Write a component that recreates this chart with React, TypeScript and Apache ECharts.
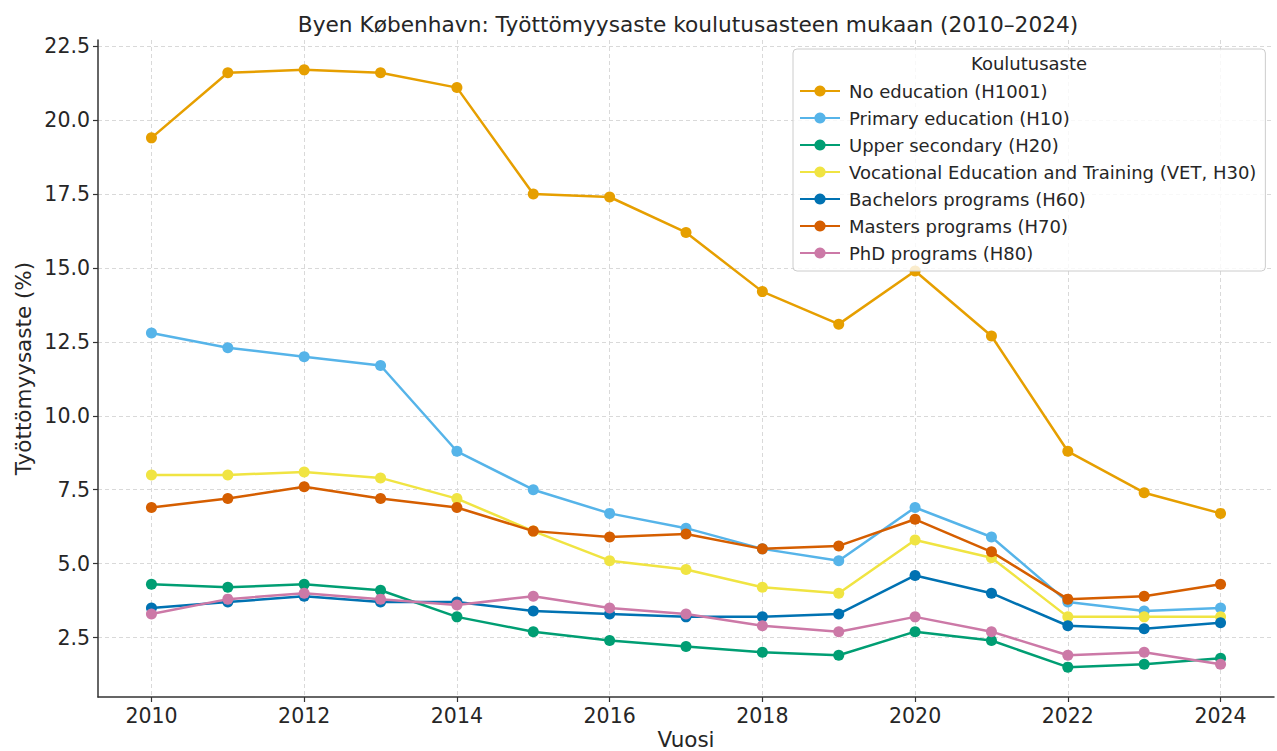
import React, { useEffect, useRef } from "react";
import * as echarts from "echarts";

const years = [2010, 2011, 2012, 2013, 2014, 2015, 2016, 2017, 2018, 2019, 2020, 2021, 2022, 2023, 2024];

const noEducation = [19.4, 21.6, 21.7, 21.6, 21.1, 17.5, 17.4, 16.2, 14.2, 13.1, 14.9, 12.7, 8.8, 7.4, 6.7];
const primaryEducation = [12.8, 12.3, 12.0, 11.7, 8.8, 7.5, 6.7, 6.2, 5.5, 5.1, 6.9, 5.9, 3.7, 3.4, 3.5];
const upperSecondary = [4.3, 4.2, 4.3, 4.1, 3.2, 2.7, 2.4, 2.2, 2.0, 1.9, 2.7, 2.4, 1.5, 1.6, 1.8];
const vocational = [8.0, 8.0, 8.1, 7.9, 7.2, 6.1, 5.1, 4.8, 4.2, 4.0, 5.8, 5.2, 3.2, 3.2, 3.2];
const bachelors = [3.5, 3.7, 3.9, 3.7, 3.7, 3.4, 3.3, 3.2, 3.2, 3.3, 4.6, 4.0, 2.9, 2.8, 3.0];
const masters = [6.9, 7.2, 7.6, 7.2, 6.9, 6.1, 5.9, 6.0, 5.5, 5.6, 6.5, 5.4, 3.8, 3.9, 4.3];
const phd = [3.3, 3.8, 4.0, 3.8, 3.6, 3.9, 3.5, 3.3, 2.9, 2.7, 3.2, 2.7, 1.9, 2.0, 1.6];

const seriesNames = [
  "No education (H1001)",
  "Primary education (H10)",
  "Upper secondary (H20)",
  "Vocational Education and Training (VET, H30)",
  "Bachelors programs (H60)",
  "Masters programs (H70)",
  "PhD programs (H80)",
];
const seriesValues = [noEducation, primaryEducation, upperSecondary, vocational, bachelors, masters, phd];
const colors = ["#E69F00", "#56B4E9", "#009E73", "#F0E442", "#0072B2", "#D55E00", "#CC79A7"];

// axis ranges (matplotlib-style 5% margins) and tick ranges
const xRange = [2009.3, 2024.7];
const xTickRange = [2010, 2024];
const xTickStep = 2;
const yRange = [0.49, 22.71];
const yTickRange = [2.5, 22.5];
const yTickStep = 2.5;

const titleText = "Byen København: Työttömyysaste koulutusasteen mukaan (2010–2024)";
const xAxisName = "Vuosi";
const yAxisName = "Työttömyysaste (%)";
const legendTitle = "Koulutusaste";

const FONT = "DejaVu Sans";
const TEXT = "#262626";

// plot frame in pixels
const W = 1277;
const H = 751;
const PL = 98;
const PR = 1274;
const PT = 40;
const PB = 697;

export default function App() {
  const ref = useRef<HTMLDivElement>(null);
  useEffect(() => {
    document.body.style.margin = "0";
    if (!ref.current) return;
    const chart = echarts.init(ref.current, null, { renderer: "svg" });

    const xPix = (v: number) => PL + ((v - xRange[0]) / (xRange[1] - xRange[0])) * (PR - PL);
    const yPix = (v: number) => PB - ((v - yRange[0]) / (yRange[1] - yRange[0])) * (PB - PT);

    const gridLine = { show: true, lineStyle: { color: "#d9d9d9", width: 1, type: [4, 3] as any } };
    const tickLabel = { fontFamily: FONT, fontSize: 20.5, color: TEXT, margin: 8 };
    const tick = { show: true, length: 5, lineStyle: { color: "#333", width: 1.2 } };
    const gridBase = { containLabel: false, outerBoundsMode: "none" };

    chart.setOption({
      animation: false,
      backgroundColor: "#ffffff",
      textStyle: { fontFamily: FONT },
      title: {
        text: titleText,
        left: 683,
        textAlign: "center",
        top: 8,
        textStyle: { fontFamily: FONT, fontSize: 21.7, fontWeight: "normal", color: TEXT },
      },
      grid: [
        // main data grid
        { ...gridBase, left: PL, right: W - PR, top: PT, bottom: H - PB },
        // helper grid for x ticks (2010..2024)
        { ...gridBase, left: xPix(xTickRange[0]), right: W - xPix(xTickRange[1]), top: PT, bottom: H - PB },
        // helper grid for y ticks (2.5..22.5)
        { ...gridBase, left: PL, right: W - PR, top: yPix(yTickRange[1]), bottom: H - yPix(yTickRange[0]) },
      ],
      xAxis: [
        {
          gridIndex: 0,
          type: "value",
          min: xRange[0],
          max: xRange[1],
          name: xAxisName,
          nameLocation: "middle",
          nameGap: 31,
          nameTextStyle: { fontFamily: FONT, fontSize: 21.5, color: TEXT },
          axisLine: { show: true, onZero: false, lineStyle: { color: "#333", width: 1.5 } },
          axisTick: { show: false },
          axisLabel: { show: false },
          splitLine: { show: false },
        },
        {
          gridIndex: 1,
          type: "value",
          min: xTickRange[0],
          max: xTickRange[1],
          interval: xTickStep,
          axisLine: { show: false, onZero: false },
          axisTick: tick,
          axisLabel: { ...tickLabel, formatter: (v: number) => String(v) },
          splitLine: gridLine,
        },
        {
          gridIndex: 2,
          type: "value",
          min: xRange[0],
          max: xRange[1],
          show: false,
        },
      ],
      yAxis: [
        {
          gridIndex: 0,
          type: "value",
          min: yRange[0],
          max: yRange[1],
          name: yAxisName,
          nameLocation: "middle",
          nameGap: 64,
          nameTextStyle: { fontFamily: FONT, fontSize: 21.5, color: TEXT },
          axisLine: { show: true, onZero: false, lineStyle: { color: "#333", width: 1.5 } },
          axisTick: { show: false },
          axisLabel: { show: false },
          splitLine: { show: false },
        },
        {
          gridIndex: 1,
          type: "value",
          min: yRange[0],
          max: yRange[1],
          show: false,
        },
        {
          gridIndex: 2,
          type: "value",
          min: yTickRange[0],
          max: yTickRange[1],
          interval: yTickStep,
          axisLine: { show: false, onZero: false },
          axisTick: tick,
          axisLabel: { ...tickLabel, formatter: (v: number) => v.toFixed(1) },
          splitLine: gridLine,
        },
      ],
      legend: {
        orient: "vertical",
        left: 793,
        top: 49,
        padding: [32, 9, 8, 6],
        itemWidth: 40,
        itemHeight: 14,
        itemGap: 7,
        backgroundColor: "rgba(255,255,255,0.8)",
        borderColor: "#cccccc",
        borderWidth: 1,
        borderRadius: 4,
        textStyle: { fontFamily: FONT, fontSize: 18, color: TEXT, lineHeight: 20, padding: [0, 0, 0, 4] },
        data: seriesNames,
      },
      graphic: [
        {
          type: "text",
          left: 971,
          top: 54,
          z: 100,
          style: { text: legendTitle, fontFamily: FONT, fontSize: 18, fill: TEXT },
        },
      ],
      series: seriesNames.map((name, i) => ({
        name,
        type: "line",
        xAxisIndex: 0,
        yAxisIndex: 0,
        data: years.map((y, j) => [y, seriesValues[i][j]]),
        color: colors[i],
        symbol: "circle",
        symbolSize: 11,
        lineStyle: { width: 2.5, color: colors[i] },
        itemStyle: { color: colors[i] },
        z: 2 + i,
      })),
    });
    return () => chart.dispose();
  }, []);
  return <div ref={ref} style={{ width: W, height: H }} />;
}
